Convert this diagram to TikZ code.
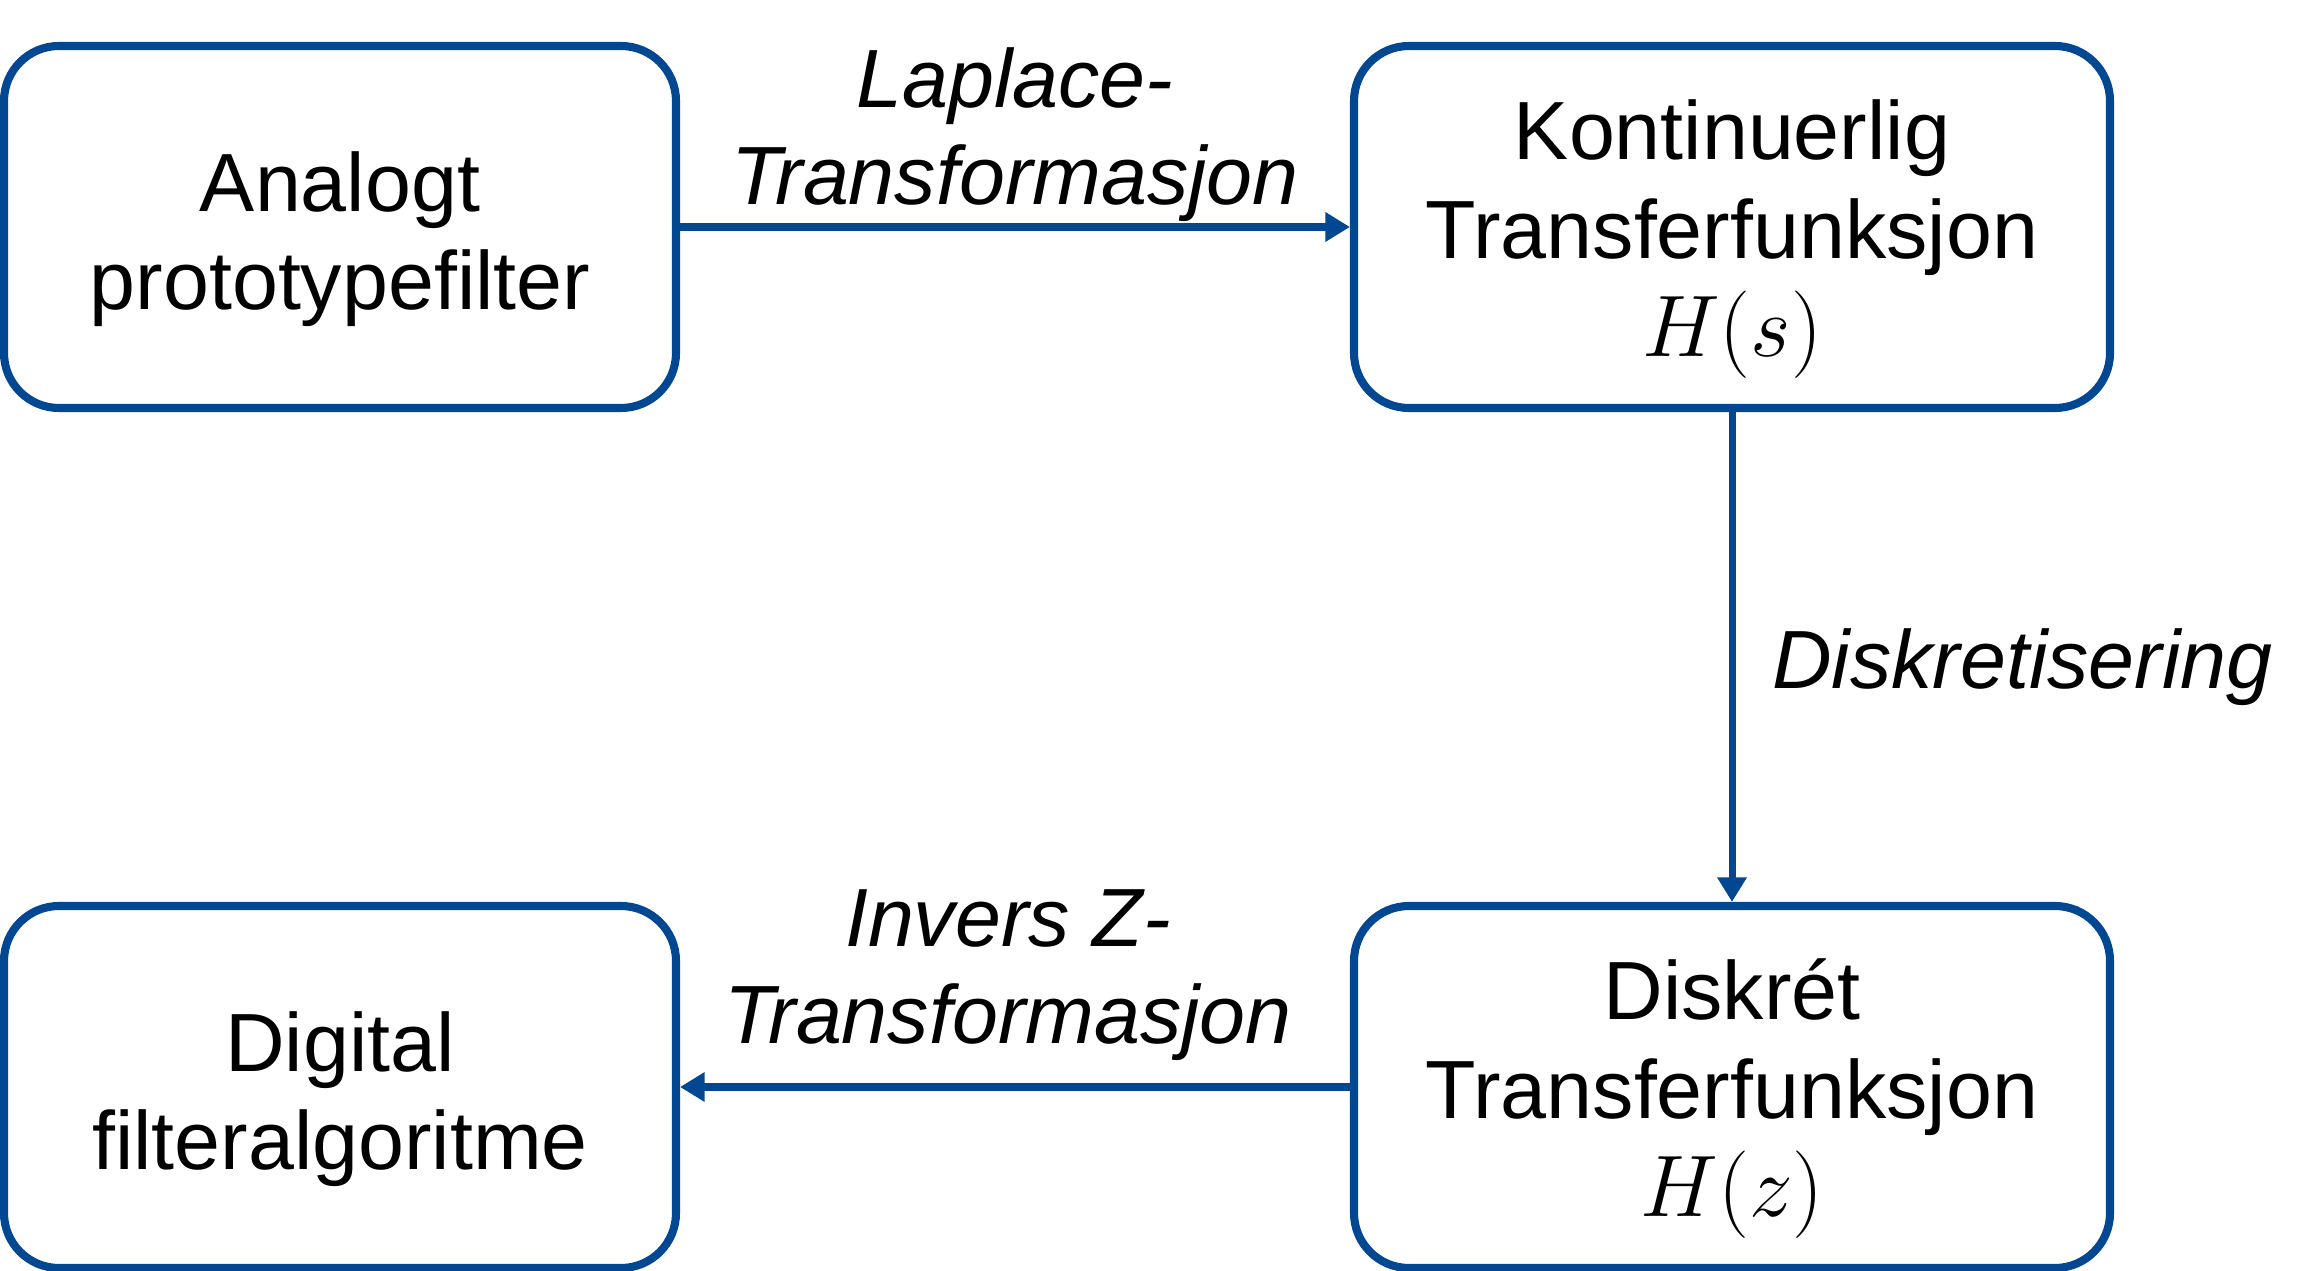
\documentclass[tikz,border=0pt]{standalone}
\usepackage{fontspec}
\setmainfont{Liberation Sans}
\definecolor{FilterBlue}{RGB}{2,71,145}
\usetikzlibrary{arrows.meta, positioning}
\newcommand{\topgap}{\rule{0pt}{24pt}}

\begin{document}
\begin{tikzpicture}[
    box/.style={draw=FilterBlue, line width=2.3pt, rounded corners=0.55cm, fill=white,
      align=center, minimum width=6.72cm, minimum height=3.62cm,
      font=\fontsize{23.5}{28}\selectfont},
    flow/.style={-{Triangle[length=7pt, width=8pt]}, FilterBlue, line width=2pt},
    steplabel/.style={font=\fontsize{23.5}{27.5}\selectfont\itshape, text=black,
      align=center, inner sep=0.5pt}
  ]
  \useasboundingbox (0,0) rectangle (23.15,-12.71);

  \node[box] (analog) at (3.40,-2.27) {\topgap Analogt\\prototypefilter};
  \node[box, minimum width=7.56cm] (kontinuerlig) at (17.32,-2.27)
        {\topgap Kontinuerlig\\Transferfunksjon\\$H(s)$};
  \node[box] (digital) at (3.40,-10.87) {\topgap Digital\\filteralgoritme};
  \node[box, minimum width=7.56cm] (diskret) at (17.32,-10.87)
        {\topgap Diskrét\\Transferfunksjon\\$H(z)$};

  \draw[flow] (analog) -- (kontinuerlig)
        node[midway, above=0pt, steplabel]{Laplace-\\Transformasjon};
  \draw[flow] (kontinuerlig) -- (diskret)
        node[midway, right=0.35cm, yshift=-0.1cm, steplabel]{Diskretisering};
  \draw[flow] (diskret) -- (digital)
        node[midway, above=6pt, xshift=-0.07cm, steplabel]{Invers Z-\\Transformasjon};
\end{tikzpicture}
\end{document}
